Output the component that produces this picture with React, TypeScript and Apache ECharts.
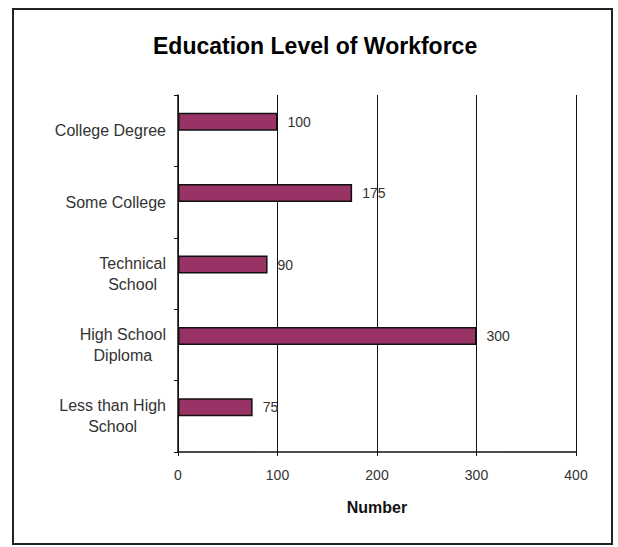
import React, { useEffect, useRef } from "react";
import * as echarts from "echarts";

const categories = [
  "College Degree",
  "Some College",
  "Technical\nSchool",
  "High School\nDiploma",
  "Less than High\nSchool",
];
const values = [100, 175, 90, 300, 75];
const emptyValues = [null, null, null, null, null];
const xTicks = { min: 0, max: 400, interval: 100 };

export default function App() {
  const ref = useRef<HTMLDivElement>(null);
  useEffect(() => {
    if (!ref.current) return;
    const chart = echarts.init(ref.current, undefined, { renderer: "svg" });
    const font = "Arial, 'Liberation Sans', Helvetica, sans-serif";
    chart.setOption({
      animation: false,
      backgroundColor: "#ffffff",
      textStyle: { fontFamily: font },
      title: {
        text: "Education Level of Workforce",
        left: 148,
        top: 29,
        textStyle: { fontSize: 23, fontWeight: "bold", color: "#000", fontFamily: font },
      },
      graphic: [
        {
          type: "rect",
          shape: { x: 13, y: 9, width: 599, height: 535 },
          style: { fill: "none", stroke: "#222", lineWidth: 2 },
          silent: true,
        },
      ],
      grid: { left: 178, right: 42, top: 95, bottom: 95 },
      xAxis: {
        type: "value",
        min: xTicks.min,
        max: xTicks.max,
        interval: xTicks.interval,
        name: "Number",
        nameLocation: "middle",
        nameGap: 47,
        nameTextStyle: { fontSize: 16, fontWeight: "bold", color: "#111", fontFamily: font },
        axisLine: { show: true, lineStyle: { color: "#111", width: 1.5 } },
        axisTick: { show: true, length: 4, lineStyle: { color: "#111" } },
        axisLabel: { fontSize: 14, color: "#333", margin: 16 },
        splitLine: { show: true, lineStyle: { color: "#111", width: 1 } },
      },
      yAxis: {
        type: "category",
        inverse: true,
        data: categories,
        axisLine: { show: true, lineStyle: { color: "#111", width: 1.5 } },
        axisTick: { show: true, length: 4, lineStyle: { color: "#111" } },
        axisLabel: {
          fontSize: 16,
          color: "#333",
          margin: 12,
          lineHeight: 21,
          formatter: (v: string) =>
            v
              .split("\n")
              .map((l) => "{c|" + l + "}")
              .join("\n"),
          rich: { c: { align: "center", fontSize: 16, color: "#333", lineHeight: 21 } },
        },
      },
      series: [
        {
          type: "bar",
          data: values,
          barWidth: 18,
          barGap: "0%",
          itemStyle: { color: "#993366", borderColor: "#111", borderWidth: 1.5 },
          label: {
            show: true,
            position: "right",
            distance: 10,
            fontSize: 14,
            color: "#333",
          },
        },
        {
          type: "bar",
          data: emptyValues,
          barWidth: 18,
          barGap: "0%",
        },
      ],
    });
    return () => chart.dispose();
  }, []);
  return (
    <div
      ref={ref}
      style={{ position: "absolute", left: 0, top: 0, width: 618, height: 547 }}
    />
  );
}
